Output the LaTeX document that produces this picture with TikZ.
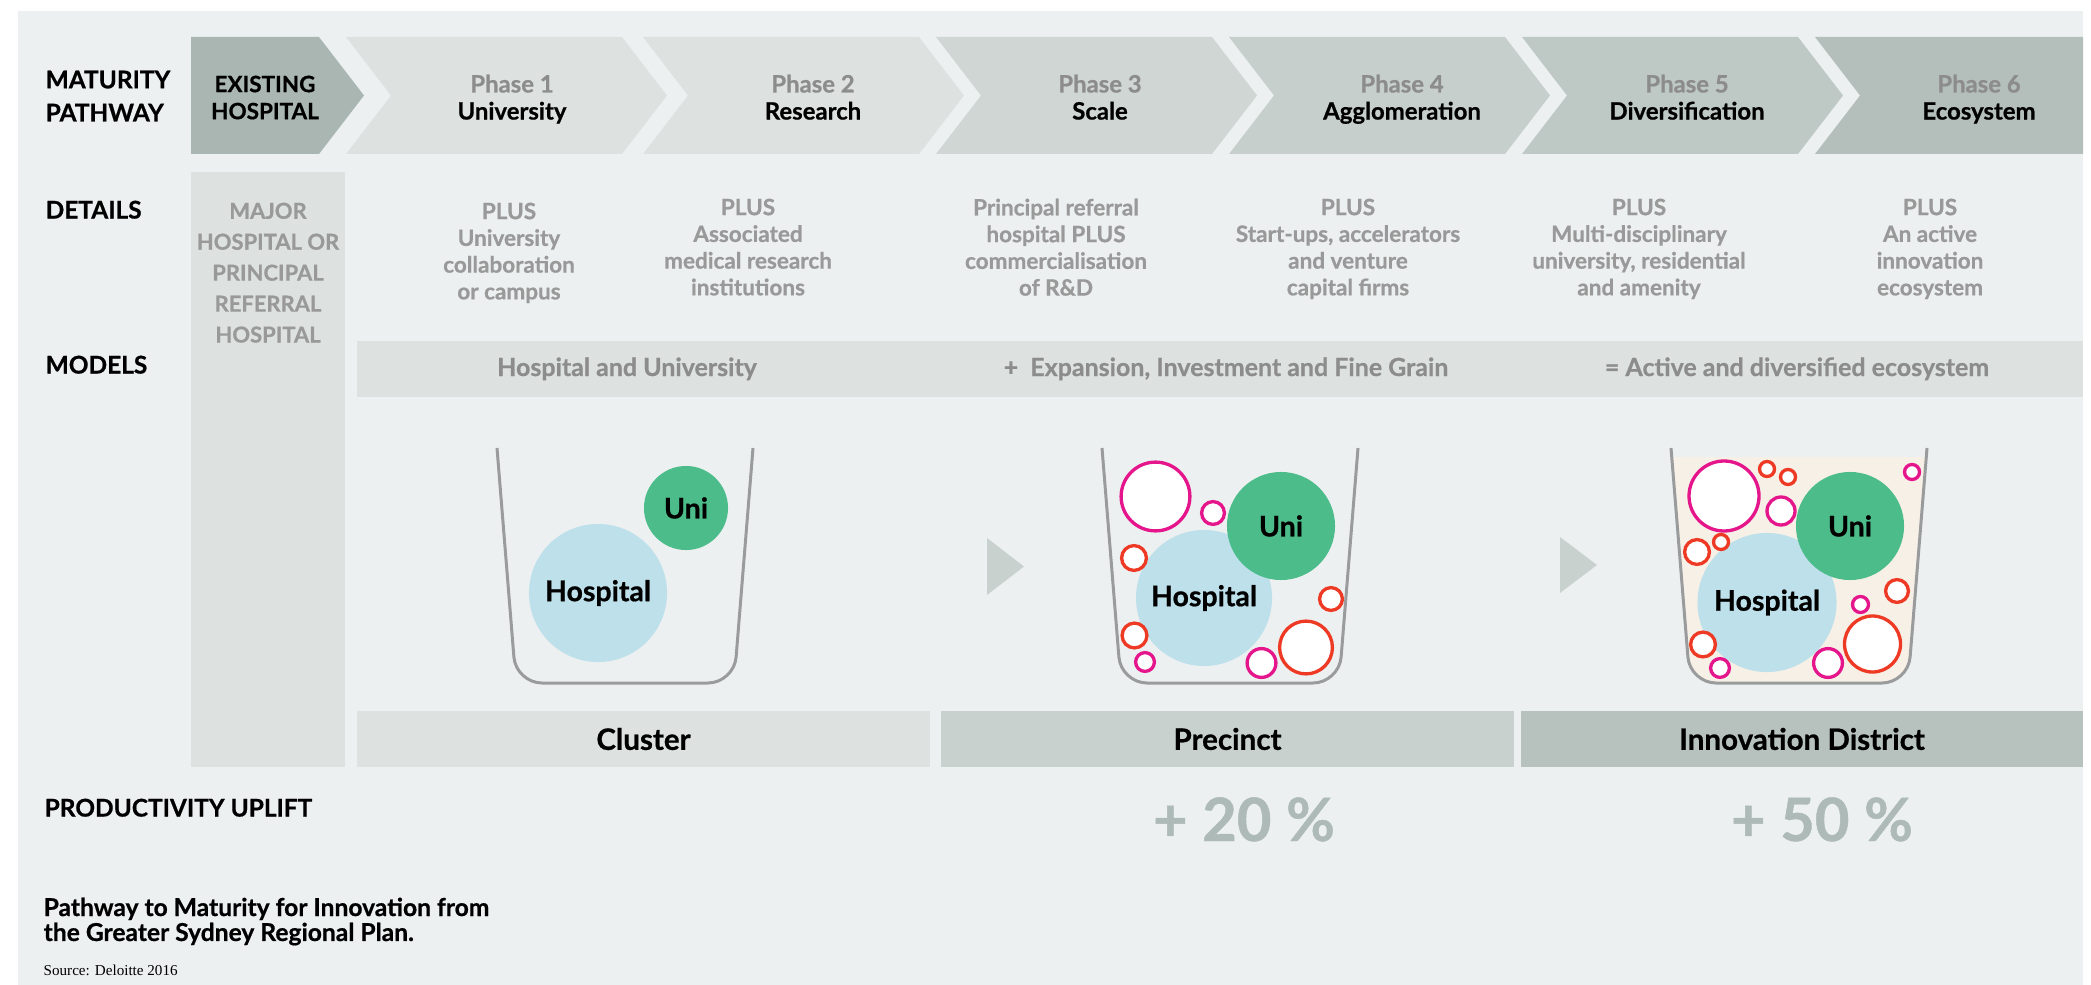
\documentclass[tikz,border=0pt]{standalone}
\usepackage{fontspec}
\setmainfont{Lato}[BoldFeatures={FakeBold=0.7}]
\newfontfamily\sourcefont{Liberation Serif}
\usepackage{tikz}
\definecolor{panelgrey}{HTML}{ECF0F1}
\definecolor{paleband}{HTML}{DDE2E1}
\definecolor{midband}{HTML}{C9D1CF}
\definecolor{darkband}{HTML}{B7C2BF}
\definecolor{existfill}{HTML}{A9B6B2}
\definecolor{phasethree}{HTML}{CFD6D4}
\definecolor{phasefour}{HTML}{C7CFCD}
\definecolor{phasefive}{HTML}{BEC8C5}
\definecolor{phasesix}{HTML}{B4BFBC}
\definecolor{phasegrey}{HTML}{8C8C8C}
\definecolor{detailgrey}{HTML}{999999}
\definecolor{hospblue}{HTML}{BDE0EA}
\definecolor{unigreen}{HTML}{4BBC8A}
\definecolor{ringpink}{HTML}{E5168B}
\definecolor{ringred}{HTML}{EE3A24}
\definecolor{cupgrey}{HTML}{999B9C}
\definecolor{liquid}{HTML}{F6F0E6}
\definecolor{upliftgrey}{HTML}{AEBAB7}

\begin{document}
\begin{tikzpicture}[x=0.01cm, y=-0.01cm,
  rowlbl/.style={anchor=north west, inner sep=0pt, align=left,
    font=\bfseries\fontsize{6.95}{9.4}\selectfont},
  phaselbl/.style={anchor=north, inner sep=0pt, align=center,
    font=\bfseries\fontsize{6.8}{7.7}\selectfont},
  detail/.style={anchor=north, inner sep=0pt, align=center, text=detailgrey,
    font=\bfseries\fontsize{6.4}{7.6}\selectfont},
  modeltxt/.style={anchor=base, inner sep=0pt, text=phasegrey,
    font=\bfseries\fontsize{7.1}{8}\selectfont},
  stagebox/.style={rectangle, inner sep=0pt, minimum height=0.56cm,
    font=\bfseries\fontsize{8.4}{9}\selectfont},
  blob/.style={circle, inner sep=0pt, font=\bfseries\fontsize{8.1}{9}\selectfont},
  ring/.style={fill=white, line width=0.94pt},
  cup/.style={draw=cupgrey, line width=0.85pt, rounded corners=2.6mm},
  uplift/.style={anchor=base, inner sep=0pt, text=upliftgrey,
    font=\bfseries\fontsize{17}{18}\selectfont}
]
  % backdrop
  \fill[white] (0,0) rectangle (2091,985);
  \fill[panelgrey] (18,11) rectangle (2083,985);
  \useasboundingbox (0,0) rectangle (2091,985);

  % maturity pathway chevrons
  \fill[existfill] (191,37) -- (319,37) -- (364,95.5) -- (319,154) -- (191,154) -- cycle;
  \fill[paleband] (346,37) -- (622,37) -- (667,95.5) -- (622,154) -- (346,154) -- (391,95.5) -- cycle;
  \fill[paleband] (643,37) -- (919,37) -- (964,95.5) -- (919,154) -- (643,154) -- (688,95.5) -- cycle;
  \fill[phasethree] (936,37) -- (1212,37) -- (1257,95.5) -- (1212,154) -- (936,154) -- (981,95.5) -- cycle;
  \fill[phasefour] (1229,37) -- (1505,37) -- (1550,95.5) -- (1505,154) -- (1229,154) -- (1274,95.5) -- cycle;
  \fill[phasefive] (1522,37) -- (1798,37) -- (1843,95.5) -- (1798,154) -- (1522,154) -- (1567,95.5) -- cycle;
  \fill[phasesix] (1815,37) -- (2083,37) -- (2083,154) -- (1815,154) -- (1860,95.5) -- cycle;

  % row headings
  \node[rowlbl] (pathway) at (45,70) {MATURITY\\PATHWAY};
  \node[rowlbl] (details) at (45,200) {DETAILS};
  \node[rowlbl] (models) at (45,355) {MODELS};
  \node[rowlbl] (uplift) at (44,798) {PRODUCTIVITY UPLIFT};

  % phase titles
  \node[phaselbl, font=\bfseries\fontsize{6.4}{7.7}\selectfont] (existing) at (265,75) {EXISTING\\HOSPITAL};
  \node[phaselbl] (ph1) at (512,74) {\textcolor{phasegrey}{Phase 1}\\University};
  \node[phaselbl] (ph2) at (813,74) {\textcolor{phasegrey}{Phase 2}\\Research};
  \node[phaselbl] (ph3) at (1100,74) {\textcolor{phasegrey}{Phase 3}\\Scale};
  \node[phaselbl] (ph4) at (1402,74) {\textcolor{phasegrey}{Phase 4}\\Agglomeration};
  \node[phaselbl] (ph5) at (1687,74) {\textcolor{phasegrey}{Phase 5}\\Diversification};
  \node[phaselbl] (ph6) at (1979,74) {\textcolor{phasegrey}{Phase 6}\\Ecosystem};

  % existing hospital column
  \fill[paleband] (191,172) rectangle (345,767);
  \node[detail, font=\bfseries\fontsize{6.25}{8.8}\selectfont] (major) at (268,202)
    {MAJOR\\HOSPITAL OR\\PRINCIPAL\\REFERRAL\\HOSPITAL};

  % details per phase
  \node[detail] (det1) at (509,202) {PLUS\\University\\collaboration\\or campus};
  \node[detail] (det2) at (748,198) {PLUS\\Associated\\medical research\\institutions};
  \node[detail] (det3) at (1056,198) {Principal referral\\hospital PLUS\\commercialisation\\of R\&D};
  \node[detail] (det4) at (1348,198) {PLUS\\Start-ups, accelerators\\and venture\\capital firms};
  \node[detail] (det5) at (1639,198) {PLUS\\Multi-disciplinary\\university, residential\\and amenity};
  \node[detail] (det6) at (1930,198) {PLUS\\An active\\innovation\\ecosystem};

  % models band
  \fill[paleband] (357,341) rectangle (2083,397);
  \node[modeltxt] (mod1) at (627,376) {Hospital and University};
  \node[modeltxt] (mod2) at (1226,376) {+\ \ Expansion, Investment and Fine Grain};
  \node[modeltxt] (mod3) at (1797,376) {= Active and diversified ecosystem};

  % cluster cup
  \node[blob, fill=hospblue, minimum size=1.38cm] (hospA) at (598,593) {Hospital};
  \node[blob, fill=unigreen, minimum size=0.84cm] (uniA) at (686,508) {Uni};
  \draw[cup] (497,448) -- (516,683) -- (734,683) -- (753,448);

  \fill[midband] (987,538) -- (1024,566.5) -- (987,595) -- cycle;

  % precinct cup
  \node[blob, fill=hospblue, minimum size=1.36cm] (hospB) at (1204,598) {Hospital};
  \node[blob, fill=unigreen, minimum size=1.08cm] (uniB) at (1281,526) {Uni};
  \draw[ring, draw=ringpink] (1155.5,496.5) circle (34.4);
  \draw[ring, draw=ringpink] (1213,513) circle (11.4);
  \draw[ring, draw=ringred] (1134,558) circle (12.4);
  \draw[ring, draw=ringred] (1331,599) circle (11.4);
  \draw[ring, draw=ringred] (1134.5,635.5) circle (12.4);
  \draw[ring, draw=ringpink] (1145,662) circle (9.4);
  \draw[ring, draw=ringpink] (1261.5,663) circle (14.4);
  \draw[ring, draw=ringred] (1306,647.5) circle (26.4);
  \draw[cup] (1102,448) -- (1121,683) -- (1339,683) -- (1358,448);

  \fill[midband] (1560,537) -- (1597,565) -- (1560,593) -- cycle;

  % innovation district cup
  \begin{scope}
    \clip (1650,457) rectangle (1950,700);
    \fill[liquid, rounded corners=2.6mm] (1667,400) -- (1690,683) -- (1908,683) -- (1931,400) -- cycle;
  \end{scope}
  \node[blob, fill=hospblue, minimum size=1.39cm] (hospC) at (1767,602.5) {Hospital};
  \node[blob, fill=unigreen, minimum size=1.08cm] (uniC) at (1850,526) {Uni};
  \draw[ring, draw=ringpink] (1724,496) circle (35);
  \draw[ring, draw=ringred] (1767,469) circle (7.5);
  \draw[ring, draw=ringred] (1788,477) circle (7.5);
  \draw[ring, draw=ringpink] (1912,472) circle (7.5);
  \draw[ring, draw=ringpink] (1781,511) circle (14);
  \draw[ring, draw=ringred] (1697,552) circle (12.4);
  \draw[ring, draw=ringred] (1721,542) circle (7.5);
  \draw[ring, draw=ringred] (1897,591) circle (11.4);
  \draw[ring, draw=ringpink] (1860.5,604.5) circle (8);
  \draw[ring, draw=ringred] (1872.5,644) circle (28);
  \draw[ring, draw=ringred] (1703,644.5) circle (12.4);
  \draw[ring, draw=ringpink] (1720,668) circle (9.4);
  \draw[ring, draw=ringpink] (1828,663) circle (14.4);
  \draw[cup] (1671,448) -- (1690,683) -- (1908,683) -- (1927,448);

  % stages
  \node[stagebox, fill=paleband, minimum width=5.73cm] (cluster) at (643.5,739) {Cluster};
  \node[stagebox, fill=midband, minimum width=5.73cm] (precinct) at (1227.5,739) {Precinct};
  \node[stagebox, fill=darkband, minimum width=5.62cm] (district) at (1802,739) {Innovation District};

  % productivity uplift
  \node[uplift] (upA) at (1244,841) {+ 20 \%};
  \node[uplift] (upB) at (1822,841) {+ 50 \%};

  % caption
  \node[anchor=north west, inner sep=0pt, align=left,
    font=\bfseries\fontsize{7}{7.1}\selectfont] (caption) at (43,897)
    {Pathway to Maturity for Innovation from\\the Greater Sydney Regional Plan.};
  \node[anchor=base west, inner sep=0pt, font=\sourcefont\fontsize{4.3}{5}\selectfont]
    (source) at (43,975) {Source: Deloitte 2016};
\end{tikzpicture}
\end{document}
